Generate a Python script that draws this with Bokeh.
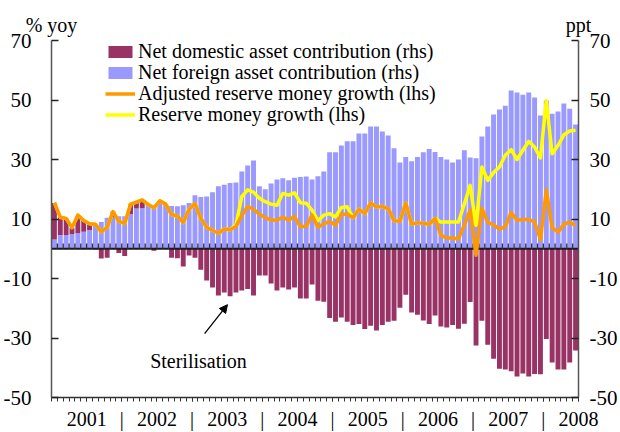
import numpy as np
import pandas as pd
from bokeh.plotting import figure
from bokeh.models import (Range1d, LinearAxis, FixedTicker, Legend, LegendItem, Label,
                          Arrow, NormalHead, ColumnDataSource)
from bokeh.embed import file_html
from bokeh.resources import INLINE

# ---------------- data (monthly, Jan 2001 - Jun 2008) ----------------
months = pd.date_range("2001-01-01", periods=90, freq="MS").strftime("%Y-%m").tolist()

nfa = [3.1, 4.6, 4.6, 4.9, 5.2, 5.7, 6.3, 8.4, 9.0, 10.4,
       10.5, 10.9, 10.9, 11.6, 13.5, 13.6, 14.6, 14.4, 15.2, 14.6,
       14.4, 14.3, 14.6, 15.4, 18.0, 17.4, 17.6, 19.0, 21.0, 21.5,
       22.1, 22.3, 26.0, 28.0, 29.7, 21.0, 20.0, 21.9, 23.3, 23.7,
       23.0, 23.9, 24.1, 24.3, 23.3, 24.4, 26.0, 32.4, 32.4, 34.7,
       36.1, 36.1, 38.7, 38.7, 41.1, 41.1, 39.4, 38.1, 33.8, 29.0,
       30.8, 29.4, 30.8, 32.4, 33.5, 32.5, 30.8, 30.0, 29.0, 30.0,
       33.1, 30.7, 30.4, 37.7, 41.1, 45.1, 46.8, 48.1, 53.2, 52.5,
       51.8, 52.5, 50.8, 44.8, 49.8, 45.4, 46.1, 48.8, 47.1, 41.8]

nda = [12.3, 6.0, 5.6, 2.2, 5.8, 3.6, 2.1, -0.2, -3.3, -3.0,
       2.0, -1.4, -2.4, 3.4, 2.2, 2.8, 0.3, -0.7, 0.9, 0.4,
       -3.0, -3.2, -6.0, -2.3, -3.0, -7.1, -10.7, -13.0, -15.7, -14.7,
       -16.0, -14.7, -14.0, -13.5, -15.7, -9.0, -9.0, -11.7, -14.0, -13.0,
       -13.7, -13.0, -16.7, -16.7, -12.0, -17.5, -17.8, -23.3, -24.5, -23.1,
       -24.5, -25.6, -25.3, -27.0, -25.9, -27.5, -25.6, -24.5, -24.2, -19.8,
       -15.5, -21.4, -22.2, -24.1, -25.3, -22.4, -26.1, -26.5, -25.6, -26.9,
       -25.2, -17.9, -32.5, -24.2, -32.3, -37.0, -40.3, -40.6, -41.2, -42.9,
       -41.9, -42.9, -42.1, -42.2, -30.3, -38.2, -40.6, -40.6, -38.2, -34.2]

adjusted = [15.5, 10.6, 10.2, 7.1, 11.3, 9.5, 8.4, 8.2, 5.7, 7.2,
            12.5, 9.2, 8.5, 15.0, 15.7, 16.4, 14.9, 13.8, 16.1, 15.0,
            11.5, 11.0, 8.8, 13.3, 15.2, 10.2, 7.2, 6.2, 5.2, 6.6,
            6.4, 7.5, 11.2, 14.2, 13.3, 11.6, 10.5, 9.7, 9.6, 10.7,
            9.6, 10.9, 7.4, 7.6, 11.3, 7.2, 8.4, 9.2, 7.9, 11.5,
            11.7, 10.4, 13.3, 11.8, 15.4, 14.0, 14.2, 13.5, 9.4, 9.2,
            15.4, 8.3, 8.7, 8.6, 8.2, 10.2, 4.6, 3.6, 3.6, 3.3,
            8.0, 13.0, -2.2, 13.6, 8.9, 8.0, 6.6, 7.4, 12.2, 9.6,
            9.8, 9.8, 9.1, 3.0, 19.8, 7.1, 5.6, 8.2, 9.0, 7.7]

reserve = [15.5, 10.6, 10.2, 7.1, 11.3, 9.5, 8.4, 8.2, 5.7, 7.2,
           12.5, 9.2, 8.5, 15.0, 15.7, 16.4, 14.9, 13.8, 16.1, 15.0,
           11.5, 11.0, 8.8, 13.3, 15.2, 10.2, 7.2, 6.2, 5.2, 6.6,
           6.4, 8.0, 17.5, 19.8, 19.0, 17.0, 15.8, 15.0, 14.6, 18.6,
           18.0, 18.8, 15.5, 15.3, 13.0, 9.4, 11.3, 11.8, 10.7, 13.9,
           14.1, 10.4, 13.3, 11.8, 15.4, 14.0, 14.2, 13.5, 9.4, 9.2,
           15.4, 8.3, 8.7, 8.6, 8.2, 10.2, 9.0, 9.0, 9.0, 9.0,
           15.0, 21.3, 7.9, 27.5, 23.0, 25.6, 27.5, 31.4, 33.3, 30.0,
           33.1, 36.1, 34.2, 30.5, 49.8, 31.9, 34.7, 38.3, 39.6, 39.8]

series_labels = ["Net domestic asset contribution (rhs)",
                 "Net foreign asset contribution (rhs)",
                 "Adjusted reserve money growth (lhs)",
                 "Reserve money growth (lhs)"]
year_labels = ["2001", "2002", "2003", "2004", "2005", "2006", "2007", "2008"]
y_tick_values = [-50, -30, -10, 10, 30, 50, 70]

# ---------------- derived ----------------
n = len(months)
x = np.arange(n) + 0.5
nfa_a = np.array(nfa)
nda_a = np.array(nda)
nda_bottom = np.where(nda_a >= 0, nfa_a, 0.0)
nda_top = np.where(nda_a >= 0, nfa_a + nda_a, nda_a)

src = ColumnDataSource(dict(x=x, month=months, nfa=nfa_a, nda_bottom=nda_bottom,
                            nda_top=nda_top, adjusted=adjusted, reserve=reserve))

SERIF = "Liberation Serif"
C_NDA = "#993366"
C_NFA = "#9999FF"
C_ADJ = "#FF9900"
C_RES = "#FFFF00"

p = figure(width=620, height=432, x_range=Range1d(0, n), y_range=Range1d(-50, 70),
           output_backend="svg", toolbar_location=None,
           min_border_left=50, min_border_right=40, min_border_top=40, min_border_bottom=34)
p.extra_y_ranges = {"rhs": Range1d(-50, 70)}
p.grid.visible = False
p.outline_line_color = None

# bottom axis: year labels centred on years, "|" separators, monthly ticks
year_centres = [12 * k + 6 for k in range(len(year_labels))]
year_seps = [12 * k for k in range(1, len(year_labels))]
overrides = {c: lab for c, lab in zip(year_centres, year_labels)}
overrides.update({s: "|" for s in year_seps})
xa = p.xaxis[0]
xa.ticker = FixedTicker(ticks=sorted(year_centres + year_seps),
                        minor_ticks=list(range(0, n + 1)))
xa.major_label_overrides = overrides
xa.major_label_text_font = SERIF
xa.major_label_text_font_size = "20px"
xa.major_label_text_color = "black"
xa.major_label_standoff = 6
xa.major_tick_in = 0
xa.major_tick_out = 4
xa.minor_tick_in = 0
xa.minor_tick_out = 4
xa.axis_line_color = "#333333"
xa.axis_line_width = 1.5
xa.major_tick_line_color = "#333333"
xa.minor_tick_line_color = "#333333"

y_label_overrides = {v: str(v) for v in y_tick_values}

# left axis
ya = p.yaxis[0]
ya.ticker = FixedTicker(ticks=y_tick_values)
ya.major_label_overrides = y_label_overrides
ya.major_label_text_font = SERIF
ya.major_label_text_font_size = "21px"
ya.major_label_text_color = "black"
ya.major_label_standoff = 20
ya.major_tick_in = 7
ya.major_tick_out = 0
ya.minor_tick_line_color = None
ya.axis_line_color = "#555555"
ya.axis_line_width = 1.5
ya.major_tick_line_color = "#222222"
ya.major_tick_line_width = 1.5

# right axis
ra = LinearAxis(y_range_name="rhs", ticker=FixedTicker(ticks=y_tick_values))
ra.major_label_overrides = y_label_overrides
ra.major_label_text_font = SERIF
ra.major_label_text_font_size = "21px"
ra.major_label_text_color = "black"
ra.major_label_standoff = 11
ra.major_tick_in = 7
ra.major_tick_out = 0
ra.minor_tick_line_color = None
ra.axis_line_color = "#555555"
ra.axis_line_width = 1.5
ra.major_tick_line_color = "#222222"
ra.major_tick_line_width = 1.5
p.add_layout(ra, "right")

# unit labels above the two value axes
ta = LinearAxis(ticker=FixedTicker(ticks=[0, n]),
                major_label_overrides={0: "% yoy", n: "ppt"})
ta.major_label_text_font = SERIF
ta.major_label_text_font_size = "20px"
ta.major_label_text_color = "black"
ta.major_label_standoff = 5
ta.major_tick_in = 0
ta.major_tick_out = 0
ta.major_tick_line_color = None
ta.minor_tick_line_color = None
ta.axis_line_color = None
p.add_layout(ta, "above")

# bars (rhs)
nfa_r = p.vbar(x="x", width=0.84, bottom=0, top="nfa", source=src,
               fill_color=C_NFA, line_color=None, y_range_name="rhs")
nda_r = p.vbar(x="x", width=0.84, bottom="nda_bottom", top="nda_top", source=src,
               fill_color=C_NDA, line_color=None, y_range_name="rhs")

# zero line with monthly ticks
p.segment(x0=[0], x1=[n], y0=[0], y1=[0], line_color="#1a1a1a", line_width=2)
edges = np.arange(1, n)
p.segment(x0=edges, x1=edges, y0=0, y1=1.8, line_color="#333333", line_width=1.3)

# lines (lhs)
res_r = p.line("x", "reserve", source=src, line_color=C_RES, line_width=3.5, line_join="round")
adj_r = p.line("x", "adjusted", source=src, line_color=C_ADJ, line_width=3.5, line_join="round")

# legend: one single-item legend per row so the row pitch is exact
ROW_H = 26
for k, (lab, rend) in enumerate(zip(series_labels, [nda_r, nfa_r, adj_r, res_r])):
    lg = Legend(items=[LegendItem(label=lab, renderers=[rend])],
                location=(54, 333 - 21 * k), padding=0, margin=0, spacing=0,
                label_standoff=3, glyph_width=30, glyph_height=15, label_height=ROW_H,
                label_text_font=SERIF, label_text_font_size="20px",
                label_text_color="black",
                background_fill_alpha=0, border_line_alpha=0)
    p.add_layout(lg)

# annotation
p.add_layout(Label(x=25.1, y=-37.8, text="Sterilisation", text_align="center",
                   text_baseline="alphabetic", text_font=SERIF, text_font_size="20px",
                   text_color="black"))
p.add_layout(Arrow(end=NormalHead(size=8, fill_color="black", line_color="black"),
                   x_start=26.15, y_start=-28.5, x_end=30.05, y_end=-18.8,
                   line_color="black", line_width=1.3))

open("out.html", "w").write(file_html(p, INLINE))
